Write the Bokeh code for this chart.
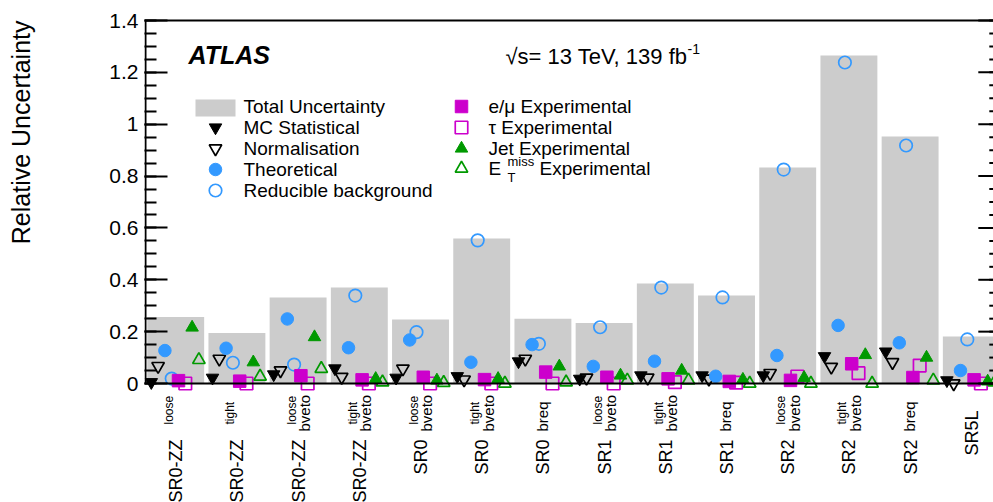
import numpy as np
from math import pi
from bokeh.plotting import figure
from bokeh.models import Range1d, FixedTicker, CustomJSTickFormatter, Title
from bokeh.core.properties import value
from bokeh.embed import file_html
from bokeh.resources import INLINE

# ---------------- data ----------------
regions_main = ["SR0-ZZ", "SR0-ZZ", "SR0-ZZ", "SR0-ZZ", "SR0", "SR0", "SR0",
                "SR1", "SR1", "SR1", "SR2", "SR2", "SR2", "SR5L"]
regions_sup = ["loose", "tight", "loose", "tight", "loose", "tight", "",
               "loose", "tight", "", "loose", "tight", "", ""]
regions_sub = ["", "", "bveto", "bveto", "bveto", "bveto", "breq",
               "bveto", "bveto", "breq", "bveto", "bveto", "breq", ""]

total_unc = [0.256, 0.195, 0.332, 0.370, 0.247, 0.559, 0.250,
             0.233, 0.386, 0.339, 0.833, 1.265, 0.953, 0.181]
mc_stat = [0.005, 0.022, 0.035, 0.058, 0.022, 0.028, 0.085,
           0.018, 0.031, 0.031, 0.031, 0.105, 0.123, 0.012]
normalisation = [0.067, 0.095, 0.050, 0.025, 0.057, 0.015, 0.095,
                 0.022, 0.022, 0.018, 0.040, 0.064, 0.082, 0.000]
theoretical = [0.127, 0.136, 0.249, 0.138, 0.168, 0.082, 0.150,
               0.066, 0.086, 0.028, 0.108, 0.224, 0.157, 0.050]
reducible = [0.019, 0.080, 0.073, 0.339, 0.198, 0.552, 0.153,
             0.217, 0.370, 0.332, 0.825, 1.238, 0.918, 0.170]
emu_exp = [0.011, 0.009, 0.030, 0.014, 0.024, 0.015, 0.044,
           0.024, 0.018, 0.008, 0.012, 0.076, 0.023, 0.014]
tau_exp = [0.000, 0.000, 0.000, 0.000, 0.000, 0.000, 0.000,
           0.000, 0.005, 0.003, 0.027, 0.040, 0.069, 0.000]
jet_exp = [0.216, 0.082, 0.179, 0.018, 0.012, 0.018, 0.066,
           0.031, 0.050, 0.015, 0.022, 0.110, 0.100, 0.008]
met_exp = [0.091, 0.027, 0.057, 0.005, 0.003, 0.000, 0.005,
           0.012, 0.012, 0.000, 0.000, 0.000, 0.012, 0.005]

y_ticks = [0.0, 0.2, 0.4, 0.6, 0.8, 1.0, 1.2, 1.4]
y_minor_ticks = [round(0.05 * k, 2) for k in range(29)]

BLUE, MAGENTA, GREEN, GRAY = "#3399ff", "#cc00cc", "#009900", "#cccccc"

series = [
    ("MC Statistical", mc_stat, "inverted_triangle", "black", True),
    ("Normalisation", normalisation, "inverted_triangle", "black", False),
    ("Theoretical", theoretical, "circle", BLUE, True),
    ("Reducible background", reducible, "circle", BLUE, False),
    ("e/\u03bc Experimental", emu_exp, "square", MAGENTA, True),
    ("\u03c4 Experimental", tau_exp, "square", MAGENTA, False),
    ("Jet Experimental", jet_exp, "triangle", GREEN, True),
    ("MET Experimental", met_exp, "triangle", GREEN, False),
]

# ---------------- layout (page pixels) ----------------
W, H = 993, 502
FRAME_LEFT = 144
AXIS_TOP = 20
BIN_PX = 61.2
Y0 = 383
UNIT_PX = (Y0 - AXIS_TOP) / 1.4
FONT = "Liberation Sans"
MSIZE = 12.5


def px2x(px):
    return (px - FRAME_LEFT) / BIN_PX


def py2y(py):
    return (Y0 - py) / UNIT_PX


n = len(total_unc)
p = figure(width=W, height=H,
           x_range=Range1d(px2x(FRAME_LEFT), px2x(W)),
           y_range=Range1d(py2y(H), py2y(0)),
           output_backend="svg", toolbar_location=None, x_axis_location=None,
           min_border_left=FRAME_LEFT, min_border_right=0,
           min_border_top=0, min_border_bottom=0)
p.outline_line_color = None
p.grid.grid_line_color = None
p.background_fill_color = "white"

ax = p.yaxis[0]
ax.ticker = FixedTicker(ticks=y_ticks, minor_ticks=y_minor_ticks)
ax.formatter = CustomJSTickFormatter(code="return (Math.round(tick*10)/10).toString();")
ax.axis_line_color = None
ax.major_tick_in = 23
ax.major_tick_out = 0
ax.minor_tick_in = 12
ax.minor_tick_out = 0
ax.major_tick_line_width = 2
ax.minor_tick_line_width = 2
ax.major_label_standoff = 6
ax.major_label_text_font = FONT
ax.major_label_text_font_size = "21px"
ax.major_label_text_color = "black"
# spacer so that the title sits at the far left
ax.axis_label = " "
ax.axis_label_text_font_size = "1px"
ax.axis_label_standoff = 68

p.add_layout(Title(text="Relative Uncertainty", align="right", offset=AXIS_TOP, standoff=0,
                   text_font=FONT, text_font_size="25px", text_font_style="normal",
                   text_color="black"), "left")

# bars: total uncertainty
centers = np.arange(n) + 0.5
p.vbar(x=centers + 0.01, width=0.93, top=total_unc, bottom=0,
       fill_color=GRAY, line_color=None)

# markers
for k, (name, vals, marker, color, filled) in enumerate(series):
    xs = np.arange(n) + (k + 1) / 9.0
    p.scatter(x=xs, y=vals, marker=marker, size=MSIZE,
              fill_color=color if filled else None, line_color=color,
              line_width=1.0 if filled else 1.7)

# frame lines (axis lines)
LX = 1 / BIN_PX
p.segment(x0=[LX, 0, 0], y0=[0, 0, y_ticks[-1]], x1=[LX, n, n], y1=[y_ticks[-1], 0, y_ticks[-1]],
          line_color="black", line_width=2)
# right-axis ticks (pointing inwards)
p.segment(x0=n - 23 / BIN_PX, y0=y_ticks, x1=n, y1=y_ticks, line_color="black", line_width=2)
p.segment(x0=n - 12 / BIN_PX, y0=y_minor_ticks, x1=n, y1=y_minor_ticks,
          line_color="black", line_width=2)

# x-axis bin labels (vertical)
main_y = [py2y(439) if (a or b) else py2y(410) for a, b in zip(regions_sup, regions_sub)]
p.text(x=centers + 1 / BIN_PX, y=main_y, text=regions_main, angle=pi / 2,
       text_align="right", text_baseline="middle", text_font=value(FONT),
       text_font_size="18px", text_color="black")
sup_idx = [i for i, s in enumerate(regions_sup) if s]
p.text(x=[centers[i] - 6 / BIN_PX for i in sup_idx], y=[py2y(424)] * len(sup_idx),
       text=[regions_sup[i] for i in sup_idx], angle=pi / 2, text_align="left",
       text_baseline="middle", text_font=value(FONT), text_font_size="12px",
       text_color="black")
sub_idx = [i for i, s in enumerate(regions_sub) if s]
p.text(x=[centers[i] + (7 if regions_sup[i] else 0) / BIN_PX for i in sub_idx],
       y=[py2y(431)] * len(sub_idx),
       text=[regions_sub[i] for i in sub_idx], angle=pi / 2, text_align="left",
       text_baseline="middle", text_font=value(FONT), text_font_size="15px",
       text_color="black")

# ATLAS and lumi labels
p.text(x=[px2x(188)], y=[py2y(54)], text=["ATLAS"], text_font=value(FONT),
       text_font_style="bold italic", text_font_size="25px", text_align="left",
       text_baseline="middle", text_color="black")
p.text(x=[px2x(505)], y=[py2y(56)], text=["\u221as= 13 TeV, 139 fb"], text_font=value(FONT),
       text_font_size="22px", text_align="left", text_baseline="middle", text_color="black")
p.text(x=[px2x(687)], y=[py2y(48)], text=["-1"], text_font=value(FONT),
       text_font_size="14px", text_align="left", text_baseline="middle", text_color="black")

# legend
LEG_TOP, LEG_STEP = 106, 21
LEG_FS = "19px"
p.quad(left=px2x(195), right=px2x(235), top=py2y(99), bottom=py2y(116),
       fill_color=GRAY, line_color=None)
p.text(x=[px2x(243)], y=[py2y(LEG_TOP)], text=["Total Uncertainty"], text_font=value(FONT),
       text_font_size=LEG_FS, text_align="left", text_baseline="middle", text_color="black")
for k, (name, vals, marker, color, filled) in enumerate(series):
    if k < 4:
        mx, tx, row = 215, 243, k + 1
    else:
        mx, tx, row = 461, 488, k - 4
    ypx = LEG_TOP + row * LEG_STEP - (1 if row == 3 and k >= 4 else 0)
    p.scatter(x=[px2x(mx)], y=[py2y(ypx)], marker=marker, size=MSIZE,
              fill_color=color if filled else None, line_color=color,
              line_width=1.0 if filled else 1.7)
    if k == 7:
        p.text(x=[px2x(tx)], y=[py2y(ypx)], text=["E"], text_font=value(FONT),
               text_font_size=LEG_FS, text_align="left", text_baseline="middle",
               text_color="black")
        p.text(x=[px2x(507)], y=[py2y(161)], text=["miss"], text_font=value(FONT),
               text_font_size="13px", text_align="left", text_baseline="middle",
               text_color="black")
        p.text(x=[px2x(507)], y=[py2y(177)], text=["T"], text_font=value(FONT),
               text_font_size="13px", text_align="left", text_baseline="middle",
               text_color="black")
        p.text(x=[px2x(539)], y=[py2y(ypx)], text=["Experimental"], text_font=value(FONT),
               text_font_size=LEG_FS, text_align="left", text_baseline="middle",
               text_color="black")
    else:
        p.text(x=[px2x(tx)], y=[py2y(ypx)], text=[name], text_font=value(FONT),
               text_font_size=LEG_FS, text_align="left", text_baseline="middle",
               text_color="black")

open("out.html", "w").write(file_html(p, INLINE))
